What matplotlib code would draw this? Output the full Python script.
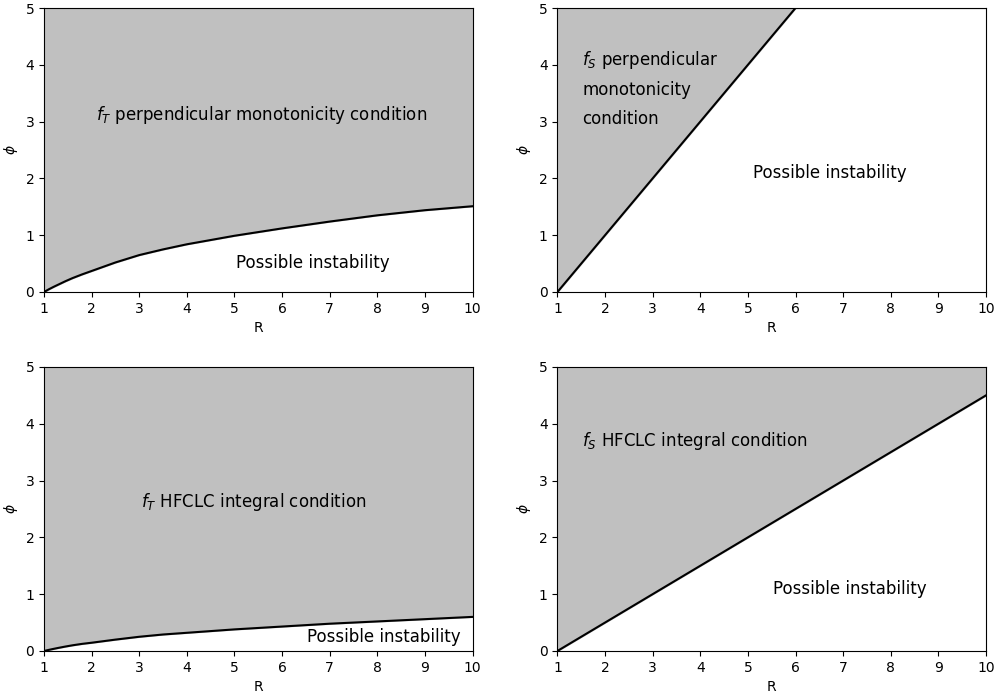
import matplotlib
matplotlib.use("Agg")
import matplotlib.pyplot as plt

# Data
R_curve = [1, 1.1, 1.2, 1.3, 1.45, 1.6, 1.8, 2, 2.5, 3, 3.5, 4, 5, 6, 7, 8, 9, 10]
phi_T_perp = [0, 0.047, 0.09, 0.13, 0.19, 0.245, 0.31, 0.37, 0.52, 0.65, 0.75, 0.84, 0.99,
              1.12, 1.24, 1.35, 1.44, 1.51]
phi_T_hfclc = [0, 0.019, 0.037, 0.054, 0.078, 0.10, 0.125, 0.145, 0.20, 0.25, 0.29, 0.32, 0.38,
               0.43, 0.48, 0.52, 0.56, 0.60]
R_line = [1, 10]
phi_S_perp = [0, 9]
phi_S_hfclc = [0, 4.5]

panels = [
    (R_curve, phi_T_perp, r"$f_T$ perpendicular monotonicity condition", (2.1, 3.12), (5.03, 0.51)),
    (R_line, phi_S_perp, "$f_S$ perpendicular\nmonotonicity\ncondition", (1.52, 3.59), (5.1, 2.1)),
    (R_curve, phi_T_hfclc, r"$f_T$ HFCLC integral condition", (3.03, 2.62), (6.52, 0.25)),
    (R_line, phi_S_hfclc, r"$f_S$ HFCLC integral condition", (1.52, 3.7), (5.52, 1.09)),
]

fig, axes = plt.subplots(2, 2, figsize=(10, 6.96), dpi=100)
fig.subplots_adjust(left=0.044, right=0.986, top=0.9885, bottom=0.0647, wspace=0.198, hspace=0.264)

for ax, (R, phi, label, lpos, ipos) in zip(axes.flat, panels):
    ax.fill_between(R, phi, 5, color="silver")
    ax.plot(R, phi, color="black", lw=1.5)
    ax.set_xlim(1, 10)
    ax.set_ylim(0, 5)
    ax.set_xticks(range(1, 11))
    ax.set_xlabel("R")
    ax.set_ylabel(r"$\phi$")
    ax.text(lpos[0], lpos[1], label, fontsize=12, ha="left", va="center", linespacing=1.75)
    ax.text(ipos[0], ipos[1], "Possible instability", fontsize=12, ha="left", va="center")

fig.savefig("out.png", dpi=100)
